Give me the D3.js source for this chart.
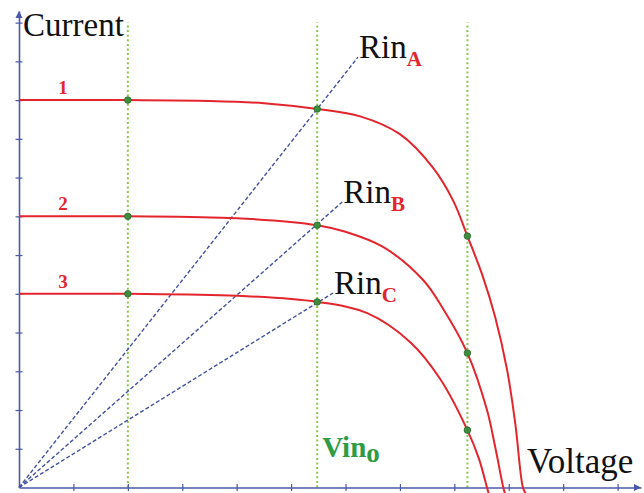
<!DOCTYPE html>
<html><head><meta charset="utf-8">
<script src="https://cdn.jsdelivr.net/npm/d3@7"></script>
<style>html,body{margin:0;padding:0;background:#fff;}svg{display:block;}</style>
</head><body>
<svg id="c" width="644" height="493"></svg>
<script>
// ---- data ----
const xTicks = [1,2,3,4,5,6,7,8,9,10,11];
const yTicks = [1,2,3,4,5,6,7,8,9,10,11,12];
const curveNames = ["1","2","3"];
const curve1 = [[0,10],[2,10],[3.5,9.98],[4.5,9.92],[5.48,9.77],[6.27,9.58],[7.0,9.12],[7.61,8.25],[7.98,7.4],[8.24,6.49],[8.51,5.5],[8.75,4.4],[8.97,3.03],[9.12,1.65],[9.26,0],[9.31,-0.15]];
const curve2 = [[0,7],[2,7],[4,6.95],[5.48,6.77],[6.0,6.6],[6.69,6.21],[7.43,5.35],[7.79,4.62],[8.24,3.47],[8.6,2.0],[8.75,1.05],[8.9,0],[8.93,-0.15]];
const curve3 = [[0,5],[2,5],[4,4.95],[5.48,4.79],[6.4,4.5],[7.19,3.75],[7.74,2.8],[8.24,1.48],[8.45,0.75],[8.6,0],[8.63,-0.15]];
const vinX = [2, 5.48, 8.24];
const markers1 = [10, 9.77, 6.49];
const markers2 = [7, 6.77, 3.47];
const markers3 = [5, 4.79, 1.48];
const rinNames = ["A","B","C"];
const rinEnds = [[6.23,11.11],[5.94,7.37],[5.77,5.02]];
const vLineTop = 12;

// ---- scales ----
const svg = d3.select("#c");
const x = d3.scaleLinear().domain([0, 11.43]).range([19, 641]);
const y = d3.scaleLinear().domain([0, 12.3]).range([487.5, 11]);

const axisCol = "#4a58a8", red = "#e3262d", green = "#2f9c45";

// green dotted verticals
svg.append("g").selectAll("line").data(vinX).join("line")
  .attr("x1", d => x(d)).attr("x2", d => x(d))
  .attr("y1", y(0)).attr("y2", y(vLineTop))
  .attr("stroke", "#86c94a").attr("stroke-width", 2)
  .attr("stroke-dasharray", "2,2.6");

// dashed Rin lines
svg.append("g").selectAll("line").data(rinEnds).join("line")
  .attr("x1", x(0)).attr("y1", y(0))
  .attr("x2", d => x(d[0])).attr("y2", d => y(d[1]))
  .attr("stroke", "#44529e").attr("stroke-width", 1.4)
  .attr("stroke-dasharray", "4,2.2");

// axes
const xAxis = d3.axisBottom(x).tickValues(xTicks).tickFormat("").tickSizeInner(4).tickSizeOuter(0);
const yAxis = d3.axisLeft(y).tickValues(yTicks).tickFormat("").tickSizeInner(4).tickSizeOuter(0);
const gx = svg.append("g").attr("transform", `translate(0,${y(0)})`).call(xAxis);
const gy = svg.append("g").attr("transform", `translate(${x(0)},0)`).call(yAxis);
[gx, gy].forEach(g => {
  g.select(".domain").attr("stroke", axisCol).attr("stroke-width", 1.6);
  g.selectAll(".tick line").attr("stroke", axisCol).attr("stroke-width", 1.2);
});
gx.selectAll(".tick line").attr("y1", -3.5).attr("y2", 3.5);
gy.selectAll(".tick line").attr("x1", -3.5).attr("x2", 3.5);
// arrowheads
const xe = x.range()[1], ye = y.range()[1];
svg.append("path").attr("d", `M${xe},${y(0)} l-7,-3.5 l0,7 z`).attr("fill", axisCol);
svg.append("path").attr("d", `M${x(0)},${ye} l-3.5,7 l7,0 z`).attr("fill", axisCol);

// curves
const line = d3.line().x(d => x(d[0])).y(d => y(d[1])).curve(d3.curveCatmullRom.alpha(0.5));
const curves = [curve1, curve2, curve3];
svg.append("g").selectAll("path").data(curves).join("path")
  .attr("d", line).attr("fill", "none").attr("stroke", red).attr("stroke-width", 2);

// markers
const markerSets = [markers1, markers2, markers3];
const mk = [];
markerSets.forEach(ms => ms.forEach((v, i) => mk.push([vinX[i], v])));
svg.append("g").selectAll("circle").data(mk).join("circle")
  .attr("cx", d => x(d[0])).attr("cy", d => y(d[1])).attr("r", 3.3)
  .attr("fill", "#3d8d3d").attr("stroke", "#2a6a2a").attr("stroke-width", 0.8);

// curve numbers
svg.append("g").selectAll("text").data(curves).join("text")
  .attr("x", x(0.72)).attr("y", d => y(d[0][1]) - 6)
  .attr("font-family", "Liberation Serif").attr("font-weight", "bold")
  .attr("font-size", 19).attr("fill", red)
  .text((d, i) => curveNames[i]);

// Rin labels
const rl = svg.append("g").selectAll("text").data(rinEnds).join("text")
  .attr("x", d => x(d[0]) + 1).attr("y", d => y(d[1]) + 1)
  .attr("font-family", "Liberation Serif").attr("font-size", 33).attr("fill", "#111");
rl.append("tspan").text("Rin");
rl.append("tspan").attr("dy", 8).attr("font-size", 21).attr("font-weight", "bold")
  .attr("fill", red).text((d, i) => rinNames[i]);

// axis titles
svg.append("text").attr("x", 23).attr("y", 36)
  .attr("font-family", "Liberation Serif").attr("font-size", 33).attr("fill", "#111").text("Current");
svg.append("text").attr("x", 527).attr("y", 473)
  .attr("font-family", "Liberation Serif").attr("font-size", 35).attr("fill", "#111").text("Voltage");

// Vin0 label
const vt = svg.append("text").attr("x", x(vinX[1]) + 5).attr("y", 457)
  .attr("font-family", "Liberation Serif").attr("font-weight", "bold")
  .attr("font-size", 29).attr("fill", green);
vt.append("tspan").text("Vin");
vt.append("tspan").attr("dy", 5).attr("font-size", 27).text("o");
</script>
</body></html>
